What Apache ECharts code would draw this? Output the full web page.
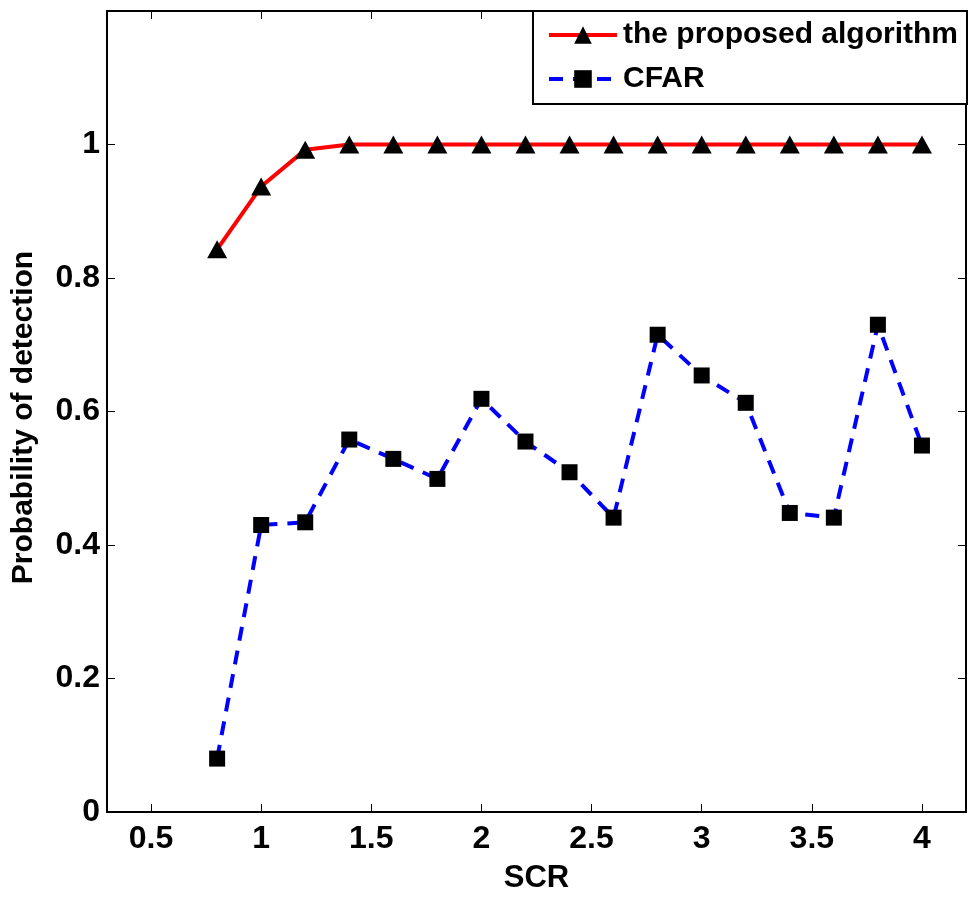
<!DOCTYPE html>
<html>
<head>
<meta charset="utf-8">
<script src="https://cdn.jsdelivr.net/npm/echarts@6/dist/echarts.min.js"></script>
<style>
  html, body { margin: 0; padding: 0; background: #fff; }
  #main { width: 968px; height: 899px; }
</style>
</head>
<body>
<div id="main"></div>
<script>
  // SCR values on the x axis
  const scr = [0.8, 1.0, 1.2, 1.4, 1.6, 1.8, 2.0, 2.2, 2.4, 2.6, 2.8, 3.0, 3.2, 3.4, 3.6, 3.8, 4.0];
  // probability of detection
  const proposed = [0.843, 0.937, 0.992, 1, 1, 1, 1, 1, 1, 1, 1, 1, 1, 1, 1, 1, 1];
  const cfar = [0.08, 0.43, 0.434, 0.558, 0.529, 0.499, 0.619, 0.555, 0.509, 0.441, 0.715, 0.654, 0.613, 0.448, 0.441, 0.73, 0.549];
  const xTicks = [0.5, 1, 1.5, 2, 2.5, 3, 3.5, 4];
  const yTicks = [0, 0.2, 0.4, 0.6, 0.8, 1];

  let chart = echarts.init(document.getElementById('main'));
  const font = 'Liberation Sans, Arial, Helvetica, sans-serif';

  let axisLine = { show: true, onZero: false, lineStyle: { color: '#000', width: 2 } };
  let tick = (vals) => ({ show: true, inside: true, length: 8, customValues: vals, lineStyle: { color: '#000', width: 1 } });

  let option = {
    backgroundColor: '#fff',
    animation: false,
    grid: { left: 107, right: 2, top: 11, bottom: 80, containLabel: false },
    legend: {
      orient: 'vertical',
      right: 1,
      top: 11,
      backgroundColor: '#fff',
      borderColor: '#000',
      borderWidth: 2,
      padding: [7, 9, 8, 14],
      itemWidth: 68,
      itemHeight: 22,
      itemGap: 10,
      lineStyle: { width: 4 },
      textStyle: { fontFamily: font, fontSize: 30, fontWeight: 'bold', color: '#000', lineHeight: 34, padding: [0, 0, 0, 1] },
      data: ['the proposed algorithm', 'CFAR']
    },
    xAxis: [{
      type: 'value',
      min: 0.3,
      max: 4.2,
      name: 'SCR',
      nameLocation: 'middle',
      nameGap: 51,
      nameTextStyle: { fontFamily: font, fontSize: 31, fontWeight: 'bold', color: '#000' },
      axisLine: axisLine,
      axisTick: tick(xTicks),
      splitLine: { show: false },
      axisLabel: {
        customValues: xTicks,
        margin: 11,
        fontFamily: font, fontSize: 32, fontWeight: 'bold', color: '#000',
        formatter: v => String(v)
      }
    }, {
      type: 'value',
      position: 'top',
      min: 0.3,
      max: 4.2,
      axisLine: axisLine,
      axisTick: tick(xTicks),
      axisLabel: { show: false },
      splitLine: { show: false }
    }],
    yAxis: [{
      type: 'value',
      min: 0,
      max: 1.2,
      name: 'Probability of detection',
      nameLocation: 'middle',
      nameGap: 68,
      nameRotate: 90,
      nameTextStyle: { fontFamily: font, fontSize: 30, fontWeight: 'bold', color: '#000', padding: [0, 12, 0, 0] },
      axisLine: axisLine,
      axisTick: tick(yTicks),
      splitLine: { show: false },
      axisLabel: {
        customValues: yTicks,
        margin: 7,
        fontFamily: font, fontSize: 32, fontWeight: 'bold', color: '#000',
        formatter: v => String(v)
      }
    }, {
      type: 'value',
      position: 'right',
      min: 0,
      max: 1.2,
      axisLine: axisLine,
      axisTick: tick(yTicks),
      axisLabel: { show: false },
      splitLine: { show: false }
    }],
    series: [{
      name: 'the proposed algorithm',
      type: 'line',
      xAxisIndex: 0,
      yAxisIndex: 0,
      symbol: 'triangle',
      symbolSize: [20, 18],
      showSymbol: true,
      lineStyle: { color: '#ff0000', width: 4, type: 'solid' },
      itemStyle: { color: '#000', borderWidth: 0 },
      data: scr.map((x, i) => [x, proposed[i]])
    }, {
      name: 'CFAR',
      type: 'line',
      xAxisIndex: 0,
      yAxisIndex: 0,
      symbol: 'rect',
      symbolSize: 16,
      showSymbol: true,
      lineStyle: { color: '#0000ff', width: 4, type: [14, 10] },
      itemStyle: { color: '#000', borderWidth: 0 },
      data: scr.map((x, i) => [x, cfar[i]])
    }]
  };

  chart.setOption(option);
</script>
</body>
</html>
